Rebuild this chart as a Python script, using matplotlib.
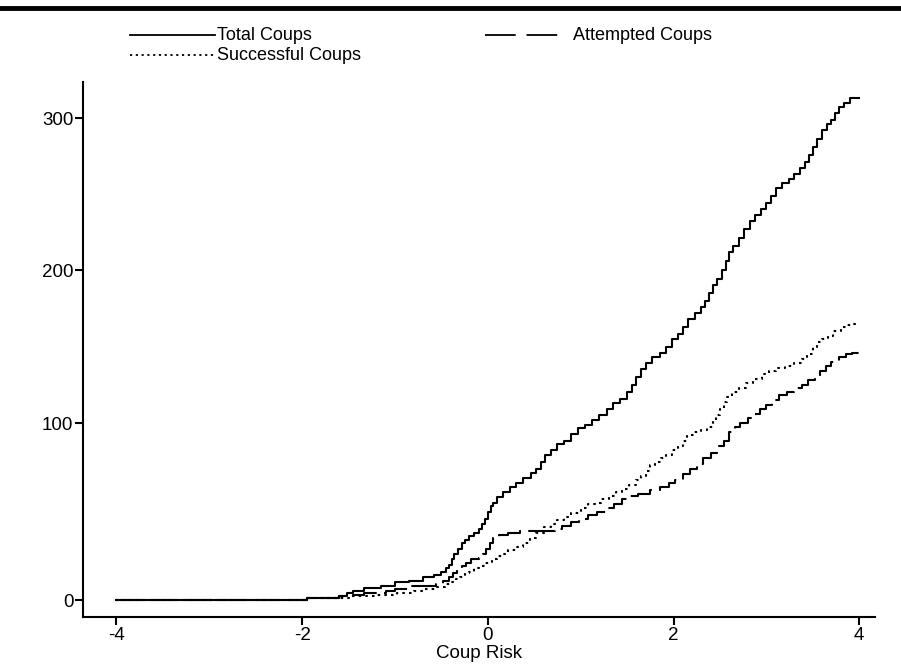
import matplotlib
matplotlib.use('Agg')
import matplotlib.pyplot as plt
import numpy as np
from matplotlib.lines import Line2D

plt.rcParams['font.family'] = ['Liberation Sans', 'DejaVu Sans']

# cumulative number of coups by coup risk score
total_x = [-4.0, -1.95, -1.6, -1.52, -1.45, -1.33, -1.15, -1.0, -0.85, -0.7, -0.58, -0.5,
           -0.45, -0.42, -0.39, -0.36, -0.32, -0.28, -0.25, -0.2, -0.15, -0.1, -0.06,
           -0.03, 0.0, 0.03, 0.06, 0.1, 0.16, 0.24, 0.3, 0.38, 0.46, 0.52, 0.57, 0.62,
           0.68, 0.75, 0.82, 0.9, 0.97, 1.05, 1.12, 1.2, 1.28, 1.35, 1.42, 1.5, 1.55,
           1.6, 1.65, 1.7, 1.77, 1.85, 1.92, 1.98, 2.05, 2.1, 2.16, 2.23, 2.3, 2.34,
           2.38, 2.42, 2.47, 2.52, 2.56, 2.6, 2.64, 2.7, 2.76, 2.82, 2.88, 2.94, 3.0,
           3.05, 3.1, 3.17, 3.24, 3.3, 3.36, 3.42, 3.46, 3.5, 3.55, 3.6, 3.65, 3.7,
           3.74, 3.78, 3.84, 3.9, 4.0]
total_y = [0, 1, 2, 4, 5, 7, 8, 10, 11, 13, 14, 16,
           18, 20, 23, 26, 29, 32, 34, 36, 38, 40, 43,
           46, 50, 53, 55, 58, 61, 64, 66, 69, 72, 74, 78, 82,
           85, 88, 90, 94, 97, 99, 102, 105, 109, 113, 116, 120, 125,
           130, 135, 139, 143, 146, 150, 155, 158, 163, 168, 172, 176, 180,
           185, 190, 194, 200, 206, 212, 216, 221, 227, 232, 236, 240, 244,
           249, 254, 257, 260, 263, 267, 271, 276, 281, 286, 292, 296, 299,
           303, 307, 310, 313, 313]

attempt_x = [-4.0, -1.95, -1.6, -1.45, -1.33, -1.1, -1.0, -0.85, -0.56, -0.48, -0.42,
             -0.38, -0.33, -0.28, -0.24, -0.18, -0.1, -0.05, -0.02, 0.02, 0.06, 0.12,
             0.22, 0.35, 0.72, 0.8, 0.9, 0.98, 1.08, 1.18, 1.28, 1.36, 1.44, 1.52, 1.62,
             1.75, 1.85, 1.95, 2.02, 2.1, 2.18, 2.25, 2.32, 2.4, 2.47, 2.54, 2.6, 2.66,
             2.72, 2.8, 2.86, 2.93, 3.0, 3.06, 3.14, 3.22, 3.3, 3.38, 3.45, 3.52, 3.58,
             3.64, 3.7, 3.78, 3.86, 3.92, 4.0]
attempt_y = [0, 1, 2, 3, 4, 5, 6, 8, 9, 11, 13,
             15, 17, 19, 21, 23, 24, 26, 29, 32, 35, 37,
             38, 39, 40, 42, 44, 46, 48, 50, 52, 54, 57, 59, 60,
             62, 64, 66, 68, 71, 74, 77, 80, 83, 87, 90, 95, 98,
             100, 103, 106, 109, 112, 115, 118, 120, 123, 125, 128, 131, 134,
             137, 140, 143, 145, 146, 146]

success_x = [-4.0, -1.95, -1.45, -1.2, -0.98, -0.8, -0.7, -0.56, -0.46, -0.4, -0.34,
             -0.3, -0.25, -0.2, -0.15, -0.1, -0.03, 0.05, 0.1, 0.15, 0.22, 0.3, 0.38,
             0.45, 0.52, 0.6, 0.68, 0.75, 0.82, 0.9, 1.0, 1.08, 1.15, 1.22, 1.3, 1.38,
             1.45, 1.52, 1.6, 1.65, 1.7, 1.75, 1.8, 1.86, 1.92, 1.98, 2.05, 2.1, 2.15,
             2.22, 2.3, 2.36, 2.42, 2.46, 2.5, 2.54, 2.58, 2.63, 2.7, 2.78, 2.86, 2.95,
             3.03, 3.1, 3.2, 3.3, 3.38, 3.44, 3.5, 3.55, 3.6, 3.66, 3.72, 3.8, 3.86,
             3.92, 4.0]
success_y = [0, 1, 2, 3, 4, 5, 6, 7.5, 9, 10, 12,
             13, 15, 16, 18, 19, 21, 23, 25, 26, 28, 30, 32,
             35, 38, 41, 43, 45, 47, 49, 52, 54, 55, 57, 59, 61,
             63, 65, 68, 70, 73, 76, 78, 80, 82, 85, 87, 90, 93,
             95, 96, 98, 101, 105, 109, 114, 117, 120, 123, 126, 129, 132,
             134, 136, 137, 139, 142, 145, 150, 153, 155, 157, 160, 163, 164,
             165, 165]

x_ticks = [-4, -2, 0, 2, 4]
y_ticks = [0, 100, 200, 300]

DASH = (13, 3.5)
DOT = (1.2, 2.0)

# the printed y axis is not evenly spaced (0-100 is stretched), mimic that
_v = [0, 100, 200, 300]
_u = [0, 177, 330, 482]


def _fwd(v):
    v = np.asarray(v, dtype=float)
    lo = v * (_u[1] / _v[1])
    hi = _u[3] + (v - _v[3]) * (_u[3] - _u[2]) / 100
    return np.where(v < 0, lo, np.where(v > 300, hi, np.interp(v, _v, _u)))


def _inv(u):
    u = np.asarray(u, dtype=float)
    lo = u / (_u[1] / _v[1])
    hi = _v[3] + (u - _u[3]) * 100 / (_u[3] - _u[2])
    return np.where(u < 0, lo, np.where(u > _u[3], hi, np.interp(u, _u, _v)))


fig = plt.figure(figsize=(9.01, 6.64), dpi=100)
ax = fig.add_axes([83 / 901, 47 / 664, 792 / 901, 535 / 664])
ax.set_yscale('function', functions=(_fwd, _inv))

ax.plot(total_x, total_y, color='black', lw=1.5, drawstyle='steps-post')
ax.plot(attempt_x, attempt_y, color='black', lw=1.5, drawstyle='steps-post',
        linestyle=(0, DASH))
ax.plot(success_x, success_y, color='black', lw=1.5, drawstyle='steps-post',
        linestyle=(0, DOT))

ax.set_xlim(-4.36, 4.17)
ax.set_ylim(-9.6, 323.7)
ax.set_xticks(x_ticks)
ax.set_xticklabels([str(t) for t in x_ticks])
ax.set_yticks(y_ticks)
ax.set_yticklabels([str(t) for t in y_ticks])
ax.minorticks_off()
ax.tick_params(direction='out', length=5.5, width=1.5, labelsize=13.5, pad=1.5)
ax.set_xlabel('Coup Risk', fontsize=13.5, labelpad=1)
for s in ['top', 'right']:
    ax.spines[s].set_visible(False)
for s in ['left', 'bottom']:
    ax.spines[s].set_linewidth(1.5)

# heavy rule across the top of the page
fig.add_artist(Line2D([0, 1], [1 - 8 / 664, 1 - 8 / 664], color='black', lw=3.5,
                      transform=fig.transFigure))


# legend drawn in figure pixels
def key(x0, x1, y, style, label, tx):
    fy = 1 - y / 664
    fig.add_artist(Line2D([x0 / 901, x1 / 901], [fy, fy], color='black', lw=1.3,
                          linestyle=style, transform=fig.transFigure))
    fig.text(tx / 901, fy, label, fontsize=13, va='center', ha='left')


key(130, 215, 35, '-', 'Total Coups', 217)
key(130, 215, 55, (0, DOT), 'Successful Coups', 217)
key(485, 560, 35, (0, (17, 6)), 'Attempted Coups', 573)

fig.savefig('out.png', dpi=100)
